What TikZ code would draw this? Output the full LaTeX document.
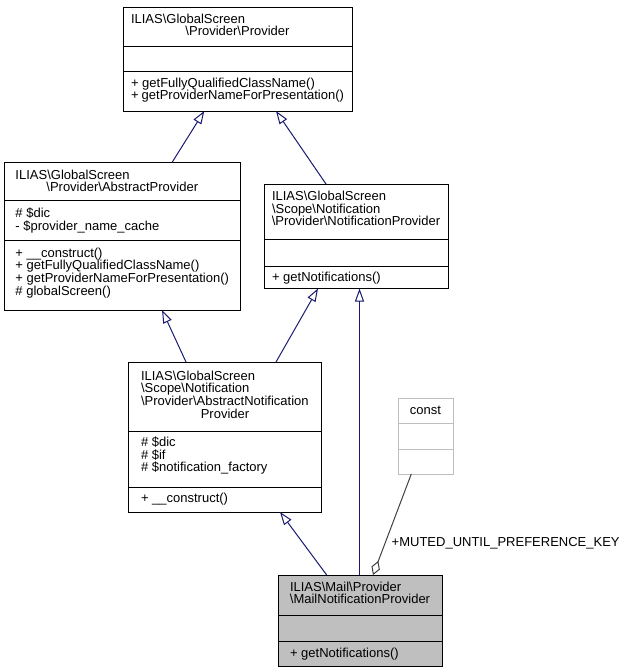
\documentclass[tikz,border=0pt]{standalone}
\usepackage{fontspec}
\setmainfont{Liberation Sans}
\usetikzlibrary{arrows.meta}
\definecolor{edgeblue}{HTML}{191970}
\definecolor{edgegray}{HTML}{404040}
\definecolor{constgray}{HTML}{BFBFBF}
\definecolor{mailgray}{HTML}{BFBFBF}
\newcommand{\nsep}{\textbackslash}
\newcommand{\midline}[1]{\makebox[\linewidth]{#1}}
\hyphenpenalty=10000

\begin{document}
\begin{tikzpicture}[
    x=1pt, y=-1pt,
    line width=1pt,
    font=\fontsize{13}{12.7}\selectfont,
    classbox/.style={draw=black, anchor=north west, inner sep=0pt, outer sep=0pt},
    member/.style={anchor=base west, inner sep=0pt, outer sep=0pt, align=flush left},
    inherit/.style={edgeblue, -{Triangle[open, length=13pt, width=9pt]}},
    aggregate/.style={edgegray, -{Diamond[open, length=15pt, width=9pt]}}
]
    \useasboundingbox (0,0) rectangle (635,672);

    % Provider (top interface)
    \node[classbox, minimum width=229pt, minimum height=103.5pt] (provider) at (123,7.5) {};
    \draw (provider.north west) ++(0,38.5) -- ++(229,0);
    \draw (provider.north west) ++(0,63.5) -- ++(229,0);
    \node[member, text width=213pt] (provider-name) at (131,23)
        {ILIAS\nsep GlobalScreen\\\midline{\nsep Provider\nsep Provider}};
    \node[member, text width=213pt] (provider-ops) at (131,87)
        {+~getFullyQualifiedClassName()\\+~getProviderNameForPresentation()};

    % AbstractProvider (left)
    \node[classbox, minimum width=235.5pt, minimum height=147.5pt] (absprov) at (4.5,162.5) {};
    \draw (absprov.north west) ++(0,38) -- ++(235.5,0);
    \draw (absprov.north west) ++(0,78) -- ++(235.5,0);
    \node[member, text width=213.5pt] (absprov-name) at (15.5,179)
        {ILIAS\nsep GlobalScreen\\\midline{\nsep Provider\nsep AbstractProvider}};
    \node[member, text width=213.5pt] (absprov-attrs) at (15.5,217.5)
        {\#~\$dic\\-~\$provider\_name\_cache};
    \node[member, text width=213.5pt] (absprov-ops) at (15.5,257)
        {+~\_\_construct()\\+~getFullyQualifiedClassName()\\
         +~getProviderNameForPresentation()\\\#~globalScreen()};

    % NotificationProvider (right)
    \node[classbox, minimum width=184pt, minimum height=104.5pt] (notifprov) at (264,184) {};
    \draw (notifprov.north west) ++(0,55) -- ++(184,0);
    \draw (notifprov.north west) ++(0,82) -- ++(184,0);
    \node[member, text width=168pt] (notifprov-name) at (272,200.5)
        {ILIAS\nsep GlobalScreen\\\nsep Scope\nsep Notification\\
         \midline{\nsep Provider\nsep NotificationProvider}};
    \node[member, text width=168pt] (notifprov-ops) at (272,281)
        {+~getNotifications()};

    % AbstractNotificationProvider (middle)
    \node[classbox, minimum width=193pt, minimum height=150pt] (absnotif) at (128.5,362) {};
    \draw (absnotif.north west) ++(0,69) -- ++(193,0);
    \draw (absnotif.north west) ++(0,125) -- ++(193,0);
    \node[member, text width=168pt] (absnotif-name) at (141,380)
        {ILIAS\nsep GlobalScreen\\\nsep Scope\nsep Notification\\
         \nsep Provider\nsep AbstractNotification\\\midline{Provider}};
    \node[member, text width=168pt] (absnotif-attrs) at (141,446.5)
        {\#~\$dic\\\#~\$if\\\#~\$notification\_factory};
    \node[member, text width=168pt] (absnotif-ops) at (141,502)
        {+~\_\_construct()};

    % const (grey outline)
    \node[classbox, draw=constgray, minimum width=55pt, minimum height=76pt] (constbox) at (398,398) {};
    \draw[constgray] (constbox.north west) ++(0,25) -- ++(55,0);
    \draw[constgray] (constbox.north west) ++(0,51) -- ++(55,0);
    \node[anchor=base, inner sep=0pt] (constbox-name) at (425.5,414) {const};

    % MailNotificationProvider (bottom, filled)
    \node[classbox, fill=mailgray, minimum width=164pt, minimum height=91pt] (mail) at (278,575) {};
    \draw (mail.north west) ++(0,40) -- ++(164,0);
    \draw (mail.north west) ++(0,66) -- ++(164,0);
    \node[member, text width=140pt] (mail-name) at (290,591)
        {ILIAS\nsep Mail\nsep Provider\\\midline{\nsep MailNotificationProvider}};
    \node[member, text width=140pt] (mail-ops) at (290,657)
        {+~getNotifications()};

    % Inheritance
    \draw[inherit] ([xshift=49.75pt]absprov.north) -- ([xshift=-33.2pt]provider.south);
    \draw[inherit] ([xshift=-30pt]notifprov.north) -- ([xshift=38.5pt]provider.south);
    \draw[inherit] ([xshift=-39pt]absnotif.north) -- ([xshift=39.75pt]absprov.south);
    \draw[inherit] ([xshift=51pt]absnotif.north) -- ([xshift=-38pt]notifprov.south);
    \draw[inherit] ([xshift=-0.5pt]mail.north) -- ([xshift=3.5pt]notifprov.south);
    \draw[inherit] ([xshift=-33.3pt]mail.north) -- ([xshift=55pt]absnotif.south);

    % Aggregation
    \draw[aggregate] ([xshift=-14.2pt]constbox.south) --
        node[member, pos=0.72, xshift=8pt, text=black] (mutedkey) {+MUTED\_UNTIL\_PREFERENCE\_KEY}
        ([xshift=13pt]mail.north);
\end{tikzpicture}
\end{document}
